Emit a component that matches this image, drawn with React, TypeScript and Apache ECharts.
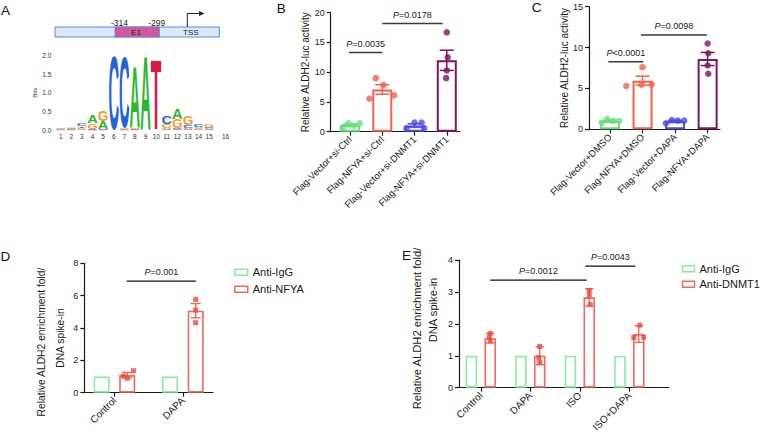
import React, { useEffect, useRef } from 'react';
import * as echarts from 'echarts';

const FONT = "'Liberation Sans', Arial, Helvetica, sans-serif";
const INK = '#1a1a1a';

// ---------- Panel A: sequence logo (bits per position 1..15) ----------
const logoTickLabels = ['1', '2', '3', '4', '5', '6', '7', '8', '9', '10', '11', '12', '13', '14', '15', '16'];
const logoPositions = [1, 2, 3, 4, 5, 6, 7, 8, 9, 10, 11, 12, 13, 14, 15];
const logoBitsA = [0.01, 0.01, 0.02, 0.22, 0.22, 0, 0.02, 1.7, 2.0, 0, 0.04, 0.29, 0.03, 0.04, 0.03];
const logoBitsC = [0.01, 0.01, 0.08, 0.03, 0.01, 2.0, 1.95, 0.01, 0, 0, 0.22, 0.03, 0.08, 0.05, 0.04];
const logoBitsG = [0.01, 0.02, 0.04, 0.15, 0.3, 0, 0.02, 0.04, 0, 0, 0.1, 0.25, 0.24, 0.02, 0.05];
const logoBitsT = [0.01, 0.02, 0.04, 0.01, 0.01, 0, 0.01, 0.02, 0, 1.9, 0.02, 0.02, 0.02, 0.02, 0.02];

// ---------- Panel B ----------
const bCategories = ['Flag-Vector+si-Ctrl', 'Flag-NFYA+si-Ctrl', 'Flag-Vector+si-DNMT1', 'Flag-NFYA+si-DNMT1'];
const bMeans = [1.12, 7.1, 1.05, 12.0];
const bSem = [0.17, 0.8, 0.27, 1.7];
const bDots = [
  [[-0.22, 0.7], [-0.05, 1.4], [0.12, 1.0], [0.3, 1.4]],
  [[-0.4, 5.55], [-0.2, 9.0], [0.04, 7.85], [0.37, 6.1]],
  [[-0.25, 0.55], [0, 1.55], [0.22, 1.55], [0.3, 0.6]],
  [[0, 16.7], [0.03, 12.5], [0, 10.3], [-0.02, 9.0]],
];
const bSig = [[0.97, 2.0, 13.3], [2.0, 3.87, 18.2]];
const bSigLabels = ['P=0.0035', 'P=0.0178'];

// ---------- Panel C ----------
const cCategories = ['Flag-Vector+DMSO', 'Flag-NFYA+DMSO', 'Flag-Vector+DAPA', 'Flag-NFYA+DAPA'];
const cMeans = [1.03, 5.95, 1.0, 8.6];
const cSem = [0.1, 0.55, 0.09, 0.8];
const cDots = [
  [[-0.25, 0.81], [-0.08, 1.26], [0.1, 1.02], [0.28, 1.02]],
  [[-0.5, 5.3], [0, 7.6], [-0.03, 5.45], [0.28, 5.5]],
  [[-0.28, 0.74], [-0.1, 1.14], [0.08, 1.06], [0.28, 1.06]],
  [[0, 10.5], [0.02, 9.3], [0, 7.8], [0.02, 6.8]],
];
const cSig = [[0.95, 2.02, 8.27], [1.95, 3.98, 11.54]];
const cSigLabels = ['P<0.0001', 'P=0.0098'];

// ---------- Panel D ----------
const dCategories = ['Control', 'DAPA'];
const dIgG = [1, 1];
const dNFYA = [1.09, 5.07];
const dNFYAErr = [0.17, 0.44];
const dDots = [
  [[-0.054, 1.03], [0, 0.89], [0.092, 1.36]],
  [[0, 5.77], [0, 5.1], [0, 4.33]],
];
const dSig = [[1.18, 2.19, 6.9]];
const dSigLabels = ['P=0.001'];

// ---------- Panel E ----------
const eCategories = ['Control', 'DAPA', 'ISO', 'ISO+DAPA'];
const eIgG = [1, 1, 1, 1];
const eDNMT1 = [1.55, 1.0, 2.83, 1.68];
const eDNMT1Err = [0.15, 0.28, 0.27, 0.26];
const eDots = [
  [[0, 1.7], [-0.02, 1.58], [0, 1.47]],
  [[0, 1.29], [-0.02, 0.95], [0, 0.8]],
  [[0, 3.04], [0, 2.9], [0.02, 2.61]],
  [[0.02, 1.96], [-0.1, 1.57], [0.1, 1.58]],
];
const eSig = [[1.19, 3.14, 3.37], [3.11, 4.12, 3.81]];
const eSigLabels = ['P=0.0012', 'P=0.0043'];

const enrichTitle = ['Relative ALDH2 enrichment fold/', 'DNA spike-in'];

// ---------- styles ----------
const GREEN = '#66e07a';
const RED = '#f4604c';
const BLUE = '#4b4be6';
const PURPLE = '#7d1363';
const PALETTE_BC = [GREEN, RED, BLUE, PURPLE];
const GREEN_D = '#86ef9c';
const RED_D = '#f5675a';
const LOGO_COLORS: Record<string, string> = { A: '#2cb82c', C: '#2563d4', G: '#f49b2b', T: '#d81b45' };
const LOGO_ADV: Record<string, number> = { A: 0.722, C: 0.722, G: 0.778, T: 0.611 };
const D_OFF = 0.187;
const E_OFF = 0.19;

const mkErr = (palette: string[], capHalf: number, lw: number) => (params: any, api: any) => {
  const x = api.value(0), m = api.value(1), e = api.value(2), ci = api.value(3);
  const t = api.coord([x, m + e]);
  const b = api.coord([x, m - e]);
  const st = { stroke: palette[ci], lineWidth: lw };
  return {
    type: 'group',
    children: [
      { type: 'line', shape: { x1: t[0], y1: t[1], x2: b[0], y2: b[1] }, style: st },
      { type: 'line', shape: { x1: t[0] - capHalf, y1: t[1], x2: t[0] + capHalf, y2: t[1] }, style: st },
      { type: 'line', shape: { x1: b[0] - capHalf, y1: b[1], x2: b[0] + capHalf, y2: b[1] }, style: st },
    ],
  };
};

const mkSig = (labels: string[], lw: number, color: string, gap: number) => (params: any, api: any) => {
  const p1 = api.coord([api.value(0), api.value(2)]);
  const p2 = api.coord([api.value(1), api.value(2)]);
  const s = labels[params.dataIndex];
  return {
    type: 'group',
    children: [
      { type: 'line', shape: { x1: p1[0], y1: p1[1], x2: p2[0], y2: p2[1] }, style: { stroke: color, lineWidth: lw } },
      {
        type: 'text',
        x: (p1[0] + p2[0]) / 2,
        y: p1[1] - gap,
        style: {
          text: '{i|' + s[0] + '}' + s.slice(1),
          fontSize: 9,
          fontFamily: FONT,
          fill: INK,
          align: 'center',
          verticalAlign: 'middle',
          rich: { i: { fontStyle: 'italic', fontSize: 9, fontFamily: FONT, fill: INK } },
        },
      },
    ],
  };
};

const logoRender = (params: any, api: any) => {
  const i = params.dataIndex;
  const pos = logoPositions[i];
  const letters: [string, number][] = [
    ['A', logoBitsA[i]],
    ['C', logoBitsC[i]],
    ['G', logoBitsG[i]],
    ['T', logoBitsT[i]],
  ];
  letters.sort((a, b) => a[1] - b[1]);
  const unit = api.coord([pos + 0.5, 0])[0] - api.coord([pos - 0.5, 0])[0];
  let base = 0;
  const children: any[] = [];
  for (const [L, h] of letters) {
    if (h <= 0) continue;
    const p0 = api.coord([pos, base]);
    const p1 = api.coord([pos, base + h]);
    const hp = p0[1] - p1[1];
    const wp = unit * 1.0;
    if (h < 0.03) {
      // a tiny letter is only a coloured speck
      children.push({
        type: 'rect',
        shape: { x: p0[0] - wp * 0.4, y: p1[1], width: wp * 0.8, height: Math.max(hp, 0.6) },
        style: { fill: LOGO_COLORS[L], opacity: 0.7 },
      });
    } else {
      children.push({
        type: 'text',
        x: p0[0],
        y: (p0[1] + p1[1]) / 2,
        scaleX: wp / (LOGO_ADV[L] * 20),
        scaleY: hp / (0.72 * 20),
        style: {
          text: L,
          fontSize: 20,
          fontWeight: 'bold',
          fontFamily: FONT,
          fill: LOGO_COLORS[L],
          align: 'center',
          verticalAlign: 'middle',
        },
      });
    }
    base += h;
  }
  return { type: 'group', children };
};

const axisLineStyle = { color: INK, width: 1.2 };

const xAx = (grid: number, min: number, max: number, labels: string[], fontSize: number) => ({
  gridIndex: grid,
  type: 'value',
  min,
  max,
  axisLine: { show: true, onZero: false, lineStyle: axisLineStyle },
  axisTick: { show: true, length: 4, customValues: labels.map((_, i) => i + 1), lineStyle: axisLineStyle },
  axisLabel: {
    customValues: labels.map((_, i) => i + 1),
    formatter: (v: number) => labels[Math.round(v) - 1] ?? '',
    rotate: 45,
    fontSize,
    color: INK,
    margin: 6,
    fontFamily: FONT,
  },
  splitLine: { show: false },
});

const yAx = (grid: number, max: number, interval: number, name: string, nameGap: number) => ({
  gridIndex: grid,
  type: 'value',
  min: 0,
  max,
  interval,
  axisLine: { show: true, onZero: false, lineStyle: axisLineStyle },
  axisTick: { show: true, length: 4, lineStyle: axisLineStyle },
  axisLabel: { fontSize: 9, color: INK, margin: 6, fontFamily: FONT },
  splitLine: { show: false },
  name,
  nameLocation: 'middle',
  nameGap,
  nameTextStyle: { fontSize: 10, color: INK, fontFamily: FONT },
});

function buildOption(): any {
  const series: any[] = [];

  // Panel A logo
  series.push({
    type: 'custom',
    xAxisIndex: 0,
    yAxisIndex: 0,
    renderItem: logoRender,
    data: logoPositions.map((p) => [p, 0]),
    encode: { x: 0, y: 1 },
    silent: true,
  });

  // Panels B and C
  const bc = [
    { g: 1, means: bMeans, sem: bSem, dots: bDots, sig: bSig, labels: bSigLabels },
    { g: 2, means: cMeans, sem: cSem, dots: cDots, sig: cSig, labels: cSigLabels },
  ];
  for (const p of bc) {
    series.push({
      type: 'bar',
      xAxisIndex: p.g,
      yAxisIndex: p.g,
      barWidth: 20,
      z: 2,
      itemStyle: { color: '#ffffff', borderWidth: 2 },
      data: p.means.map((m, i) => ({ value: [i + 1, m], itemStyle: { borderColor: PALETTE_BC[i] } })),
    });
    series.push({
      type: 'custom',
      xAxisIndex: p.g,
      yAxisIndex: p.g,
      z: 3,
      renderItem: mkErr(PALETTE_BC, 7, 1.5),
      encode: { x: 0, y: 1 },
      data: p.means.map((m, i) => [i + 1, m, p.sem[i], i]),
    });
    const pts: any[] = [];
    p.dots.forEach((grp, i) =>
      grp.forEach(([off, v]) => pts.push({ value: [i + 1 + off, v], itemStyle: { color: PALETTE_BC[i] } }))
    );
    series.push({
      type: 'scatter',
      xAxisIndex: p.g,
      yAxisIndex: p.g,
      z: 4,
      symbol: 'circle',
      symbolSize: 6.5,
      data: pts,
    });
    series.push({
      type: 'custom',
      xAxisIndex: p.g,
      yAxisIndex: p.g,
      z: 5,
      renderItem: mkSig(p.labels, 1.5, '#3a3a3a', 8.5),
      encode: { x: 0, y: 2 },
      data: p.sig,
    });
  }

  // Panels D and E (grouped)
  const de = [
    { g: 3, off: D_OFF, igg: dIgG, tgt: dNFYA, err: dNFYAErr, dots: dDots, sig: dSig, labels: dSigLabels, name: 'Anti-NFYA', bw: 16, cap: 5 },
    { g: 4, off: E_OFF, igg: eIgG, tgt: eDNMT1, err: eDNMT1Err, dots: eDots, sig: eSig, labels: eSigLabels, name: 'Anti-DNMT1', bw: 11.5, cap: 4.2 },
  ];
  for (const p of de) {
    series.push({
      name: 'Anti-IgG',
      type: 'bar',
      xAxisIndex: p.g,
      yAxisIndex: p.g,
      barWidth: p.bw,
      barGap: '-100%',
      z: 2,
      itemStyle: { color: '#ffffff', borderColor: GREEN_D, borderWidth: 1.6 },
      data: p.igg.map((v, i) => [i + 1 - p.off, v]),
    });
    series.push({
      name: p.name,
      type: 'bar',
      xAxisIndex: p.g,
      yAxisIndex: p.g,
      barWidth: p.bw,
      barGap: '-100%',
      z: 2,
      itemStyle: { color: '#ffffff', borderColor: RED_D, borderWidth: 1.6 },
      data: p.tgt.map((v, i) => [i + 1 + p.off, v]),
    });
    series.push({
      type: 'custom',
      xAxisIndex: p.g,
      yAxisIndex: p.g,
      z: 3,
      renderItem: mkErr([RED_D], p.cap, 1.4),
      encode: { x: 0, y: 1 },
      data: p.tgt.map((v, i) => [i + 1 + p.off, v, p.err[i], 0]),
    });
    const pts: any[] = [];
    p.dots.forEach((grp, i) => grp.forEach(([o, v]) => pts.push([i + 1 + p.off + o, v])));
    series.push({
      type: 'scatter',
      xAxisIndex: p.g,
      yAxisIndex: p.g,
      z: 4,
      symbol: 'rect',
      symbolSize: 5,
      itemStyle: { color: '#f0493c' },
      data: pts,
    });
    series.push({
      type: 'custom',
      xAxisIndex: p.g,
      yAxisIndex: p.g,
      z: 5,
      renderItem: mkSig(p.labels, 1.3, '#111', 8.7),
      encode: { x: 0, y: 2 },
      data: p.sig,
    });
  }

  const legendItem = (name: string, color: string) => ({
    name,
    itemStyle: { color: '#ffffff', borderColor: color, borderWidth: 1.5 },
  });

  const txt = (text: string, x: number, y: number, fontSize: number, align = 'left', extra: any = {}, rotation = 0) => ({
    type: 'text',
    x,
    y,
    rotation,
    silent: true,
    style: { text, fontSize, fontFamily: FONT, fill: '#111', align, verticalAlign: 'middle', ...extra },
  });

  const R = Math.PI / 2;

  return {
    animation: false,
    backgroundColor: '#ffffff',
    textStyle: { fontFamily: FONT },
    grid: [
      { left: 55.4, top: 55.7, width: 170.7, height: 74.3, outerBoundsMode: 'none', containLabel: false },
      { left: 330.7, top: 12.7, width: 129.3, height: 119, outerBoundsMode: 'none', containLabel: false },
      { left: 589, top: 6.7, width: 131, height: 122.6, outerBoundsMode: 'none', containLabel: false },
      { left: 84.3, top: 263.3, width: 128.7, height: 129.4, outerBoundsMode: 'none', containLabel: false },
      { left: 459, top: 260, width: 210, height: 127.7, outerBoundsMode: 'none', containLabel: false },
    ],
    xAxis: [
      {
        gridIndex: 0,
        type: 'value',
        min: 0.5,
        max: 16.6,
        axisLine: { show: false },
        axisTick: { show: false },
        splitLine: { show: false },
        axisLabel: {
          customValues: [...logoPositions, 16.55],
          formatter: (v: number) => (v > 15.5 ? logoTickLabels[15] : logoTickLabels[Math.round(v) - 1]),
          fontSize: 6.5,
          color: '#333',
          margin: 3,
          fontFamily: FONT,
        },
      },
      xAx(1, 0.4, 4.41, bCategories, 9.5),
      xAx(2, 0.355, 4.38, cCategories, 9.5),
      xAx(3, 0.56, 2.44, dCategories, 10),
      xAx(4, 0.56, 4.8, eCategories, 10),
    ],
    yAxis: [
      {
        gridIndex: 0,
        type: 'value',
        min: 0,
        max: 2,
        interval: 0.5,
        axisLine: { show: false },
        axisTick: { show: false },
        splitLine: { show: false },
        axisLabel: { formatter: (v: number) => v.toFixed(1), fontSize: 6.5, color: '#333', margin: 4, fontFamily: FONT },
        name: 'Bits',
        nameLocation: 'middle',
        nameGap: 17,
        nameTextStyle: { fontSize: 6, color: '#333', fontFamily: FONT },
      },
      yAx(1, 20, 5, 'Relative ALDH2-luc activity', 20),
      yAx(2, 15, 5, 'Relative ALDH2-luc activity', 20),
      yAx(3, 8, 2, '', 16),
      yAx(4, 4, 1, '', 17),
    ],
    legend: [
      {
        orient: 'vertical',
        left: 234,
        top: 266.8,
        itemWidth: 13,
        itemHeight: 6,
        itemGap: 6,
        icon: 'rect',
        padding: 0,
        selectedMode: false,
        textStyle: { fontSize: 11, color: INK, fontFamily: FONT },
        data: [legendItem('Anti-IgG', GREEN_D), legendItem('Anti-NFYA', RED_D)],
      },
      {
        orient: 'vertical',
        left: 681.7,
        top: 263.2,
        itemWidth: 12,
        itemHeight: 6,
        itemGap: 4.6,
        icon: 'rect',
        padding: 0,
        selectedMode: false,
        textStyle: { fontSize: 11, color: INK, fontFamily: FONT },
        data: [legendItem('Anti-IgG', GREEN_D), legendItem('Anti-DNMT1', RED_D)],
      },
    ],
    graphic: [
      txt('A', 1, 10, 13.5),
      txt('B', 276.7, 8, 13.5),
      txt('C', 531.7, 7.2, 13.5),
      txt('D', 0.5, 256.2, 13.5),
      txt('E', 402, 255.5, 13.5),
      txt(enrichTitle[0], 41.7, 342, 10.3, 'center', { fill: INK }, R),
      txt(enrichTitle[1], 60, 338, 10.3, 'center', { fill: INK }, R),
      txt(enrichTitle[0], 416.7, 328.5, 11.2, 'center', { fill: INK }, R),
      txt(enrichTitle[1], 433.3, 310, 11.2, 'center', { fill: INK }, R),
      {
        type: 'rect',
        silent: true,
        shape: { x: 55, y: 27, width: 164.3, height: 10 },
        style: { fill: '#dce7f7', stroke: '#5b8cdc', lineWidth: 1 },
      },
      {
        type: 'rect',
        silent: true,
        shape: { x: 115, y: 27, width: 44.3, height: 10 },
        style: { fill: '#d6569a', stroke: '#5b8cdc', lineWidth: 1 },
      },
      txt('E1', 136, 32.3, 8, 'center', { fill: '#222' }),
      txt('TSS', 190.8, 32.3, 8, 'center', { fill: '#222' }),
      txt('-314', 119.5, 23.3, 8.5, 'center', { fill: '#222' }),
      txt('-299', 156.7, 23.3, 8.5, 'center', { fill: '#222' }),
      {
        type: 'polyline',
        silent: true,
        shape: { points: [[187.3, 27], [187.3, 13.5], [200, 13.5]] },
        style: { stroke: '#222', lineWidth: 1, fill: null },
      },
      {
        type: 'polygon',
        silent: true,
        shape: { points: [[204.5, 13.5], [199, 11], [199, 16]] },
        style: { fill: '#222' },
      },
    ],
    series,
  };
}

export default function App() {
  const ref = useRef<HTMLDivElement>(null);
  useEffect(() => {
    const chart = echarts.init(ref.current!, null, { renderer: 'svg' });
    chart.setOption(buildOption());
    return () => chart.dispose();
  }, []);
  return (
    <div
      ref={ref}
      style={{ position: 'absolute', left: 0, top: 0, width: 762, height: 440, background: '#fff' }}
    />
  );
}
